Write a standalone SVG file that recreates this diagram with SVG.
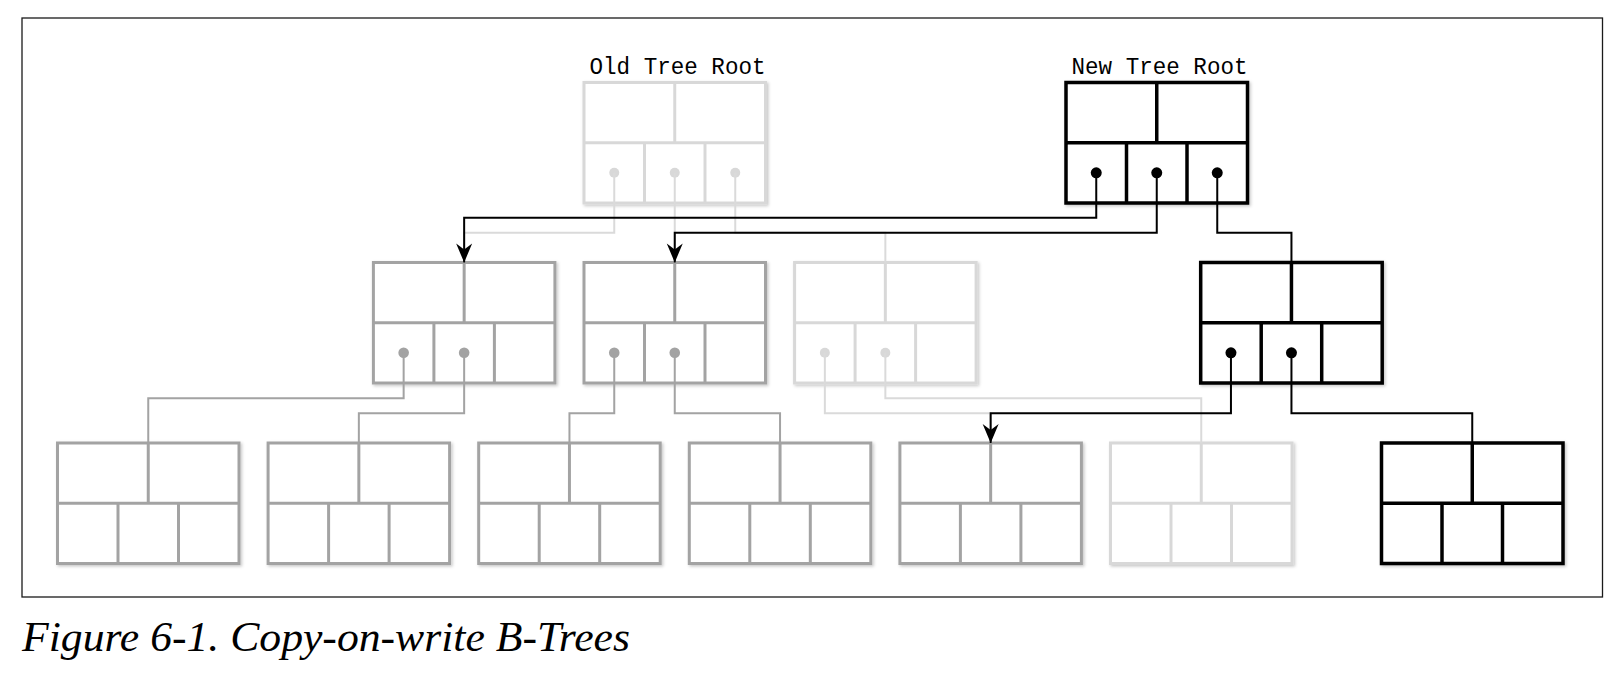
<svg xmlns="http://www.w3.org/2000/svg" xmlns:xlink="http://www.w3.org/1999/xlink" width="1622" height="680" viewBox="0 0 1622 680">
  <style>
    .frame { fill: none; stroke: #1a1a1a; stroke-width: 1.3; }
    .node circle { fill: currentColor; stroke: none; }
    .black { color: #000000; stroke-width: 3.5; }
    .gray { color: #a3a3a3; stroke-width: 3; }
    .faded { color: #d8d8d8; stroke-width: 3; }
    .conn { fill: none; stroke-width: 2; stroke-linejoin: miter; }
    .c-black { stroke: #000000; }
    .c-gray { stroke: #a3a3a3; }
    .c-faded { stroke: #dadada; }
    .label { font-family: "Liberation Mono", "DejaVu Sans Mono", monospace; font-size: 23px; fill: #000; text-anchor: middle; }
    .caption { font-family: "Liberation Serif", "DejaVu Serif", serif; font-style: italic; font-size: 42px; fill: #000; }
  </style>
  <defs>
    <filter id="shadow" x="-5%" y="-5%" width="115%" height="120%">
      <feDropShadow dx="1.5" dy="1.5" stdDeviation="1.5" flood-color="#000" flood-opacity="0.22"/>
    </filter>
    <g id="shape">
      <rect x="0" y="0" width="181.5" height="120.5" fill="#ffffff" stroke="currentColor"/>
      <line x1="90.75" y1="0" x2="90.75" y2="60.25" stroke="currentColor"/>
      <line x1="0" y1="60.25" x2="181.5" y2="60.25" stroke="currentColor"/>
      <line x1="60.5" y1="60.25" x2="60.5" y2="120.5" stroke="currentColor"/>
      <line x1="121" y1="60.25" x2="121" y2="120.5" stroke="currentColor"/>
    </g>
    <marker id="arrow" markerUnits="userSpaceOnUse" viewBox="-20 -9 21 18" refX="0" refY="0" markerWidth="21" markerHeight="18" orient="auto">
      <path d="M0,0 L-19,-8 L-13,0 L-19,8 Z" fill="#000"/>
    </marker>
  </defs>

  <rect class="frame" x="22" y="18" width="1580.5" height="579"/>

  <g id="nodes">
    <g id="old-root" class="node faded" transform="translate(584,82.5)" filter="url(#shadow)">
      <use xlink:href="#shape"/>
      <circle cx="30.25" cy="90.3" r="5"/><circle cx="90.75" cy="90.3" r="5"/><circle cx="151.25" cy="90.3" r="5"/>
    </g>
    <g id="new-root" class="node black" transform="translate(1066,82.5)" filter="url(#shadow)">
      <use xlink:href="#shape"/>
      <circle cx="30.25" cy="90.3" r="5.5"/><circle cx="90.75" cy="90.3" r="5.5"/><circle cx="151.25" cy="90.3" r="5.5"/>
    </g>
    <g id="mid1" class="node gray" transform="translate(373.4,262.5)" filter="url(#shadow)">
      <use xlink:href="#shape"/>
      <circle cx="30.25" cy="90.3" r="5.3"/><circle cx="90.75" cy="90.3" r="5.3"/>
    </g>
    <g id="mid2" class="node gray" transform="translate(584,262.5)" filter="url(#shadow)">
      <use xlink:href="#shape"/>
      <circle cx="30.25" cy="90.3" r="5.3"/><circle cx="90.75" cy="90.3" r="5.3"/>
    </g>
    <g id="mid3" class="node faded" transform="translate(794.6,262.5)" filter="url(#shadow)">
      <use xlink:href="#shape"/>
      <circle cx="30.25" cy="90.3" r="5"/><circle cx="90.75" cy="90.3" r="5"/>
    </g>
    <g id="mid4" class="node black" transform="translate(1200.7,262.5)" filter="url(#shadow)">
      <use xlink:href="#shape"/>
      <circle cx="30.25" cy="90.3" r="5.5"/><circle cx="90.75" cy="90.3" r="5.5"/>
    </g>
    <g id="leaf1" class="node gray" transform="translate(57.5,443)" filter="url(#shadow)"><use xlink:href="#shape"/></g>
    <g id="leaf2" class="node gray" transform="translate(268.1,443)" filter="url(#shadow)"><use xlink:href="#shape"/></g>
    <g id="leaf3" class="node gray" transform="translate(478.7,443)" filter="url(#shadow)"><use xlink:href="#shape"/></g>
    <g id="leaf4" class="node gray" transform="translate(689.3,443)" filter="url(#shadow)"><use xlink:href="#shape"/></g>
    <g id="leaf5" class="node gray" transform="translate(899.9,443)" filter="url(#shadow)"><use xlink:href="#shape"/></g>
    <g id="leaf6" class="node faded" transform="translate(1110.5,443)" filter="url(#shadow)"><use xlink:href="#shape"/></g>
    <g id="leaf7" class="node black" transform="translate(1381.5,443)" filter="url(#shadow)"><use xlink:href="#shape"/></g>
  </g>

  <g id="connectors">
    <g class="conn c-faded">
      <path d="M614.25,172.8 V232.7 H464.15 V262.5"/>
      <path d="M674.75,172.8 V262.5"/>
      <path d="M735.25,172.8 V232.7 H885.35 V262.5"/>
      <path d="M824.85,352.8 V413.3 H990.65 V443"/>
      <path d="M885.35,352.8 V398.3 H1201.25 V443"/>
    </g>
    <g class="conn c-gray">
      <path d="M403.65,352.8 V398.3 H148.25 V443"/>
      <path d="M464.15,352.8 V413.3 H358.85 V443"/>
      <path d="M614.25,352.8 V413.3 H569.45 V443"/>
      <path d="M674.75,352.8 V413.3 H780.05 V443"/>
    </g>
    <g class="conn c-black">
      <path d="M1096.25,172.8 V217.7 H464.15 V262.5" marker-end="url(#arrow)"/>
      <path d="M1156.75,172.8 V232.7 H674.75 V262.5" marker-end="url(#arrow)"/>
      <path d="M1217.25,172.8 V232.7 H1291.45 V262.5"/>
      <path d="M1230.95,352.8 V413.3 H990.65 V443" marker-end="url(#arrow)"/>
      <path d="M1291.45,352.8 V413.3 H1472.25 V443"/>
    </g>
  </g>

  <g id="labels">
    <text class="label" x="677.5" y="74" textLength="176" lengthAdjust="spacingAndGlyphs">Old Tree Root</text>
    <text class="label" x="1159.5" y="74" textLength="176" lengthAdjust="spacingAndGlyphs">New Tree Root</text>
  </g>

  <text class="caption" x="22" y="651" textLength="608" lengthAdjust="spacingAndGlyphs">Figure 6-1. Copy-on-write B-Trees</text>
</svg>
